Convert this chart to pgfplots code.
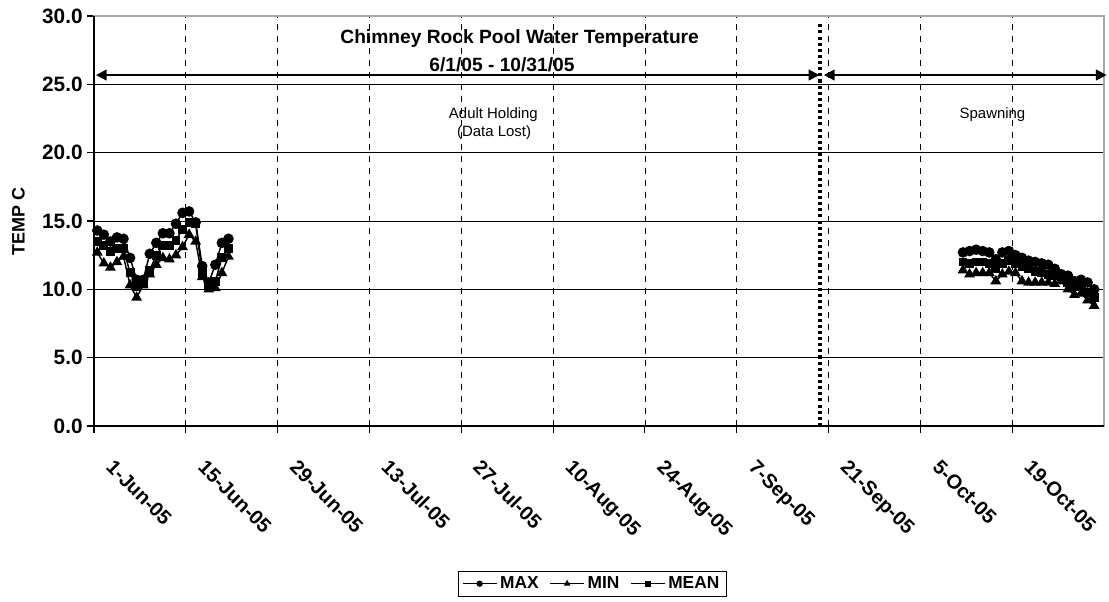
\documentclass[border=0pt]{standalone}
\usepackage{pgfplots}
\pgfplotsset{compat=1.18}
\usepackage{pgfplotstable}
\usepackage{fontspec}
\setmainfont{Liberation Sans}
\usetikzlibrary{arrows.meta}

% x = days after 1-Jun-05 (+0.5, points sit mid-day)
\pgfplotstableread{
x     max    min    mean
0.5   14.3   12.7   13.5
1.5   14.0   11.9   13.2
2.5   13.5   11.6   12.8
3.5   13.8   12.0   13.0
4.5   13.7   12.4   13.0
5.5   12.3   10.3   11.2
6.5   10.7    9.4   10.2
7.5   10.7   10.3   10.4
8.5   12.6   11.1   11.4
9.5   13.4   11.8   12.5
10.5  14.1   12.3   13.2
11.5  14.1   12.2   13.2
12.5  14.8   12.5   13.6
13.5  15.6   13.1   14.4
14.5  15.7   14.0   14.9
15.5  14.9   13.5   14.8
16.5  11.7   10.9   11.2
17.5  10.5   10.0   10.3
18.5  11.8   10.1   10.6
19.5  13.4   11.2   12.3
20.5  13.7   12.4   13.0
nan   nan    nan    nan
132.5 12.7   11.4   12.0
133.5 12.8   11.1   11.9
134.5 12.9   11.2   12.0
135.5 12.8   11.2   12.0
136.5 12.7   11.2   11.9
137.5 12.2   10.6   11.5
138.5 12.7   11.1   11.9
139.5 12.8   11.3   12.1
140.5 12.5   11.2   11.9
141.5 12.3   10.6   11.7
142.5 12.1   10.5   11.5
143.5 12.0   10.5   11.3
144.5 11.9   10.5   11.2
145.5 11.8   10.5   11.1
146.5 11.5   10.4   11.0
147.5 11.1   10.6   10.9
148.5 11.0   10.0   10.5
149.5 10.6    9.6   10.2
150.5 10.7    9.7   10.3
151.5 10.5    9.2    9.8
152.5 10.0    8.8    9.4
}\temps

\begin{document}
\begin{tikzpicture}
\begin{axis}[
    scale only axis,
    width=757.5pt, height=307.5pt,
    xmin=0, xmax=154, ymin=0, ymax=30,
    clip=false,
    unbounded coords=jump,
    xtick={0,14,...,140},
    xticklabels={1-Jun-05,15-Jun-05,29-Jun-05,13-Jul-05,27-Jul-05,10-Aug-05,24-Aug-05,7-Sep-05,21-Sep-05,5-Oct-05,19-Oct-05},
    ytick={0,5,...,30},
    yticklabel style={font=\bfseries\fontsize{15.6}{17}\selectfont,
      /pgf/number format/fixed, /pgf/number format/fixed zerofill,
      /pgf/number format/precision=1, /pgf/number format/assume math mode=true},
    xticklabel style={font=\bfseries\fontsize{15}{17}\selectfont,
      xshift=15.8pt, yshift=-14.5pt, rotate=-45, anchor=north west},
    xtick pos=bottom, ytick pos=left,
    tick align=outside, major tick length=5pt,
    tick style={black, line width=0.8pt},
    axis line style={gray!70, line width=0.9pt},
    xmajorgrids, ymajorgrids,
    x grid style={black, line width=0.6pt, dash pattern=on 4.5pt off 4.5pt},
    y grid style={black, line width=0.6pt},
    ylabel={TEMP C},
    ylabel style={at={(axis description cs:-0.0748,0.499)}, anchor=center, font=\bfseries\fontsize{13.5}{15}\selectfont},
    legend style={at={(0.493,-0.354)}, anchor=north, legend columns=3, draw=black,
      font=\bfseries\fontsize{13}{15}\selectfont,
      /tikz/every even column/.append style={column sep=6pt}},
    legend image code/.code={\draw[mark repeat=2,mark phase=2] plot coordinates {(0cm,0cm) (0.45cm,0cm) (0.9cm,0cm)};},
    legend image post style={mark size=1.8pt},
  ]
  \addplot[black, line width=1.1pt, mark=*, mark size=3.4pt, mark options={solid, fill=black}] table[x=x, y=max] {\temps};
  \addplot[black, line width=1.1pt, mark=triangle*, mark size=3.6pt, mark options={solid, fill=black}] table[x=x, y=min] {\temps};
  \addplot[black, line width=1.1pt, mark=square*, mark size=2.8pt, mark options={solid, fill=black}] table[x=x, y=mean] {\temps};
  \legend{MAX, MIN, MEAN}

  \draw[black, line width=1pt] (rel axis cs:0,1) -- (rel axis cs:0,0) -- (rel axis cs:1,0);
  \draw[line width=2.3pt, dash pattern=on 2.3pt off 2.3pt] (axis cs:110.7,0) -- (axis cs:110.7,29.6);
  \draw[line width=1.4pt, {Triangle[length=8pt,width=8pt]}-{Triangle[length=8pt,width=8pt]}]
    (axis cs:0.3,25.68) -- (axis cs:110.6,25.68);
  \draw[line width=1.4pt, {Triangle[length=8pt,width=8pt]}-{Triangle[length=8pt,width=8pt]}]
    (axis cs:111.3,25.68) -- (axis cs:154.4,25.68);
  \node[anchor=base, font=\bfseries\fontsize{14.4}{17}\selectfont] at (axis cs:64.9,27.97) {Chimney Rock Pool Water Temperature};
  \node[anchor=base, font=\bfseries\fontsize{14.4}{17}\selectfont] at (axis cs:62.2,25.95) {6/1/05 - 10/31/05};
  \node[anchor=base, font=\fontsize{11.2}{13}\selectfont] at (axis cs:60.9,22.51) {Adult Holding};
  \node[anchor=base, font=\fontsize{11.2}{13}\selectfont] at (axis cs:61.0,21.2) {(Data Lost)};
  \node[anchor=base, font=\fontsize{11.2}{13}\selectfont] at (axis cs:137.0,22.51) {Spawning};
\end{axis}
\pgfresetboundingbox
\path ([shift={(-70.5pt,-132pt)}]current axis.south west) rectangle ([shift={(3.75pt,12pt)}]current axis.north east);
\end{tikzpicture}
\end{document}
